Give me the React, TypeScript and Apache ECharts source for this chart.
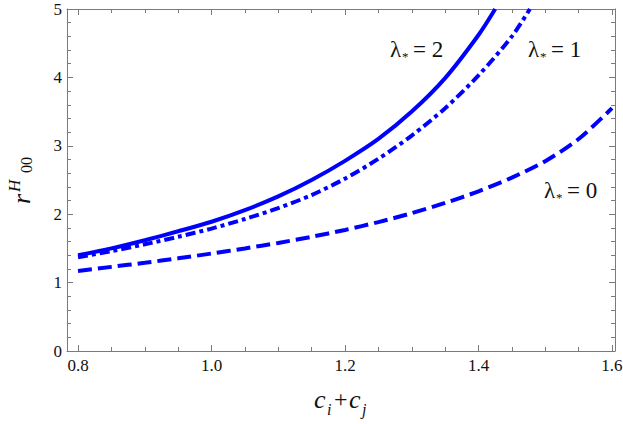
import React, { useEffect, useRef } from "react";
import * as echarts from "echarts";

// ---- data ----
const lambda2X = [0.8, 0.85, 0.9, 0.95, 1.0, 1.05, 1.1, 1.15, 1.2, 1.25, 1.3, 1.35, 1.4, 1.425];
const lambda2Y = [1.4, 1.5, 1.62, 1.75, 1.89, 2.06, 2.26, 2.5, 2.78, 3.1, 3.5, 3.99, 4.62, 5.0];

const lambda1X = [0.8, 0.85, 0.9, 0.95, 1.0, 1.05, 1.1, 1.15, 1.2, 1.25, 1.3, 1.35, 1.4, 1.45, 1.477];
const lambda1Y = [1.37, 1.46, 1.56, 1.67, 1.79, 1.93, 2.09, 2.28, 2.52, 2.81, 3.15, 3.55, 4.03, 4.6, 5.0];

const lambda0X = [0.8, 0.85, 0.9, 0.95, 1.0, 1.05, 1.1, 1.15, 1.2, 1.25, 1.3, 1.35, 1.4, 1.45, 1.5, 1.55, 1.6];
const lambda0Y = [1.17, 1.23, 1.29, 1.355, 1.425, 1.5, 1.58, 1.67, 1.77, 1.885, 2.015, 2.165, 2.335, 2.535, 2.775, 3.1, 3.55];

const xMajorTicks = [0.8, 1.0, 1.2, 1.4, 1.6];
const xMinorTicks = [0.85, 0.9, 0.95, 1.05, 1.1, 1.15, 1.25, 1.3, 1.35, 1.45, 1.5, 1.55];
const X_MIN = 0.7835;
const X_MAX = 1.6045;
const Y_MIN = 0;
const Y_MAX = 5;

const FRAME = "#7a7a7a";
const BLUE = "#0000ff";
const SERIF = "Liberation Serif";
const INK = "#111";

function zip(xs: number[], ys: number[]) {
  return xs.map((x, i) => [x, ys[i]]);
}

function txt(x: number, y: number, text: string, size: number, italic = false) {
  return {
    type: "text",
    x,
    y,
    style: {
      text,
      fontFamily: SERIF,
      fontSize: size,
      fontStyle: italic ? "italic" : "normal",
      fill: INK,
      verticalAlign: "middle",
      align: "left",
    },
  };
}

function lambdaLabel(x: number, baseline: number, value: string) {
  const fs = 23;
  const y = baseline - 0.34 * fs;
  return [txt(x, y, "λ", fs), txt(x + 12, baseline - 1, "*", 13), txt(x + 23, y, "= " + value, fs)];
}

export default function App() {
  const ref = useRef<HTMLDivElement>(null);
  useEffect(() => {
    if (!ref.current) return;
    const chart = echarts.init(ref.current, undefined, { renderer: "svg" });
    const xBase = (position: string, ticks: number[], len: number, showLine: boolean, showLabel: boolean) => ({
      type: "value",
      min: X_MIN,
      max: X_MAX,
      position,
      axisLine: { show: showLine, onZero: false, lineStyle: { color: FRAME, width: 1 } },
      axisTick: { show: true, inside: true, length: len, customValues: ticks, lineStyle: { color: FRAME, width: 1 } },
      axisLabel: showLabel
        ? {
            show: true,
            customValues: ticks,
            formatter: (v: number) => v.toFixed(1),
            fontFamily: SERIF,
            fontSize: 17,
            color: INK,
            margin: 6,
          }
        : { show: false },
      splitLine: { show: false },
    });
    const yBase = (position: string, showLabel: boolean) => ({
      type: "value",
      min: Y_MIN,
      max: Y_MAX,
      interval: 1,
      position,
      axisLine: { show: true, onZero: false, lineStyle: { color: FRAME, width: 1 } },
      axisTick: { show: true, inside: true, length: 6, lineStyle: { color: FRAME, width: 1 } },
      minorTick: { show: true, splitNumber: 5, length: 4, lineStyle: { color: FRAME, width: 1 } },
      axisLabel: showLabel
        ? { show: true, fontFamily: SERIF, fontSize: 17, color: INK, margin: 5, showMinLabel: true, showMaxLabel: true }
        : { show: false },
      splitLine: { show: false },
      minorSplitLine: { show: false },
    });

    const lineSeries = (name: string, xs: number[], ys: number[], type: any) => ({
      name,
      type: "line",
      data: zip(xs, ys),
      showSymbol: false,
      symbol: "none",
      smooth: 0.3,
      lineStyle: { color: BLUE, width: 4, type },
      clip: true,
    });

    const option: any = {
      animation: false,
      backgroundColor: "#ffffff",
      grid: { left: 67, right: 8, top: 9, bottom: 73, containLabel: false, outerBoundsMode: "none" },
      xAxis: [
        xBase("bottom", xMajorTicks, 6, true, true),
        xBase("bottom", xMinorTicks, 4, false, false),
        xBase("top", xMajorTicks, 6, true, false),
        xBase("top", xMinorTicks, 4, false, false),
      ],
      yAxis: [yBase("left", true), yBase("right", false)],
      series: [
        lineSeries("λ*=2", lambda2X, lambda2Y, "solid"),
        lineSeries("λ*=1", lambda1X, lambda1Y, [10, 4, 4, 4]),
        lineSeries("λ*=0", lambda0X, lambda0Y, [14, 6]),
      ],
      graphic: [
        ...lambdaLabel(390, 57, "2"),
        ...lambdaLabel(528, 57, "1"),
        ...lambdaLabel(544, 198, "0"),
        // x-axis title: c_i + c_j
        txt(314, 399, "c", 26, true),
        txt(327, 409, "i", 16, true),
        txt(334, 399, "+", 24),
        txt(349, 399, "c", 26, true),
        txt(362, 409, "j", 16, true),
        // y-axis title: r^H_00 (rotated)
        {
          type: "group",
          x: 30,
          y: 204,
          rotation: Math.PI / 2,
          children: [txt(0, -9, "r", 26, true), txt(12, -16, "H", 17, true), txt(31, -4, "00", 16)],
        },
      ],
    };
    chart.setOption(option);
    return () => chart.dispose();
  }, []);
  return (
    <div
      ref={ref}
      style={{ position: "fixed", left: 0, top: 0, width: 623, height: 424, background: "#fff" }}
    />
  );
}
